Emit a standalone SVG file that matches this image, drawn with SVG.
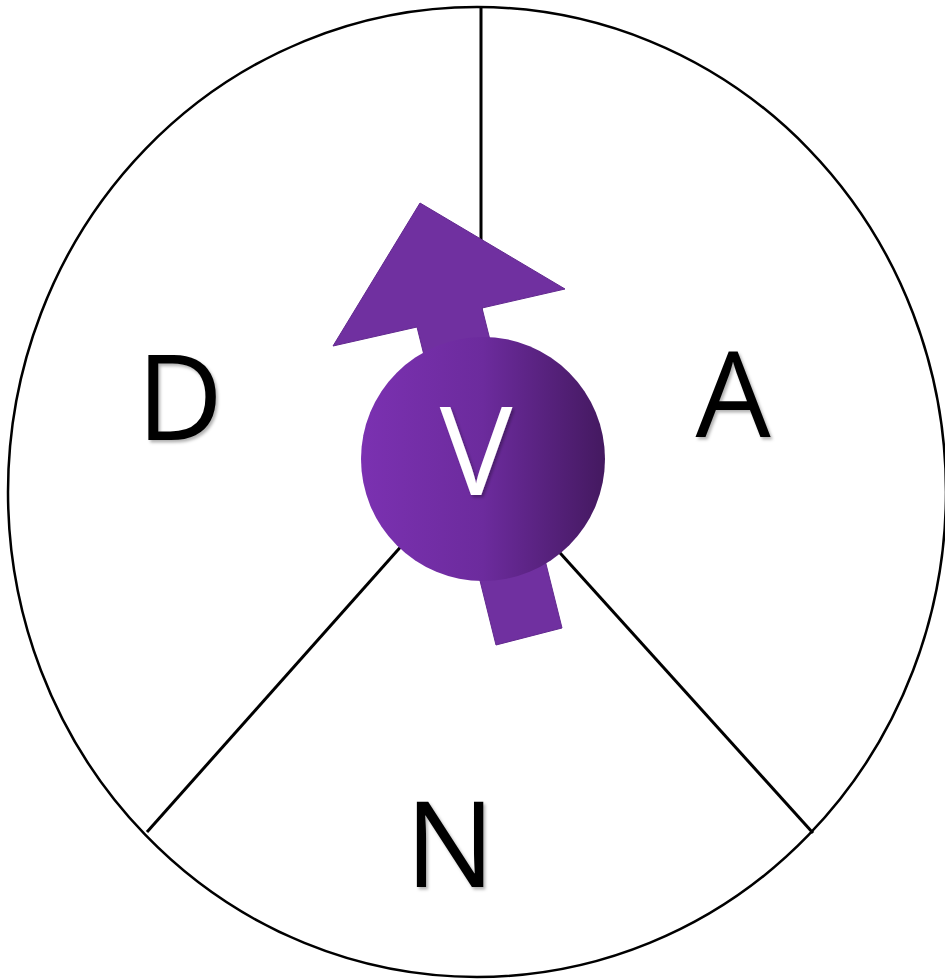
<svg xmlns="http://www.w3.org/2000/svg" width="945" height="979" viewBox="0 0 945 979">
  <style>
    .ring { fill: #ffffff; stroke: #000000; stroke-width: 2.5; }
    .divider { stroke: #000000; stroke-width: 3; fill: none; }
    .label { font-family: "Open Sans", "Liberation Sans", sans-serif; font-size: 119px; text-anchor: middle; fill: #000000; filter: url(#shadow); }
    .vlabel { font-family: "Open Sans", "Liberation Sans", sans-serif; font-size: 122px; text-anchor: middle; fill: #ffffff; filter: url(#shadow); }
  </style>
  <defs>
    <linearGradient id="ballGrad" x1="0" y1="0" x2="1" y2="0">
      <stop offset="0" stop-color="#7b31b1"/>
      <stop offset="0.5" stop-color="#6c2b9d"/>
      <stop offset="1" stop-color="#441960"/>
    </linearGradient>
    <filter id="shadow" x="-20%" y="-20%" width="150%" height="150%">
      <feDropShadow dx="2" dy="2.5" stdDeviation="1.5" flood-color="#000000" flood-opacity="0.3"/>
    </filter>
  </defs>
  <g id="background">
    <ellipse class="ring" cx="477" cy="492" rx="469" ry="485"/>
  </g>
  <g id="connectors">
    <line class="divider" x1="481" y1="7" x2="481" y2="461"/>
    <line class="divider" x1="147" y1="832" x2="477" y2="461"/>
    <line class="divider" x1="813" y1="833" x2="477" y2="461"/>
  </g>
  <g id="spin-arrow">
    <polygon points="420,203 565,289 482,308 562,628 496,645 417,327 333,346" fill="#7030a0" stroke="#62288f" stroke-width="1"/>
  </g>
  <g id="node-V">
    <circle cx="483" cy="459" r="122" fill="url(#ballGrad)"/>
    <text class="vlabel" x="476" y="495">V</text>
  </g>
  <g id="node-D">
    <text class="label" x="180" y="440">D</text>
  </g>
  <g id="node-A">
    <text class="label" x="733" y="437">A</text>
  </g>
  <g id="node-N">
    <text class="label" x="450" y="887">N</text>
  </g>
</svg>
